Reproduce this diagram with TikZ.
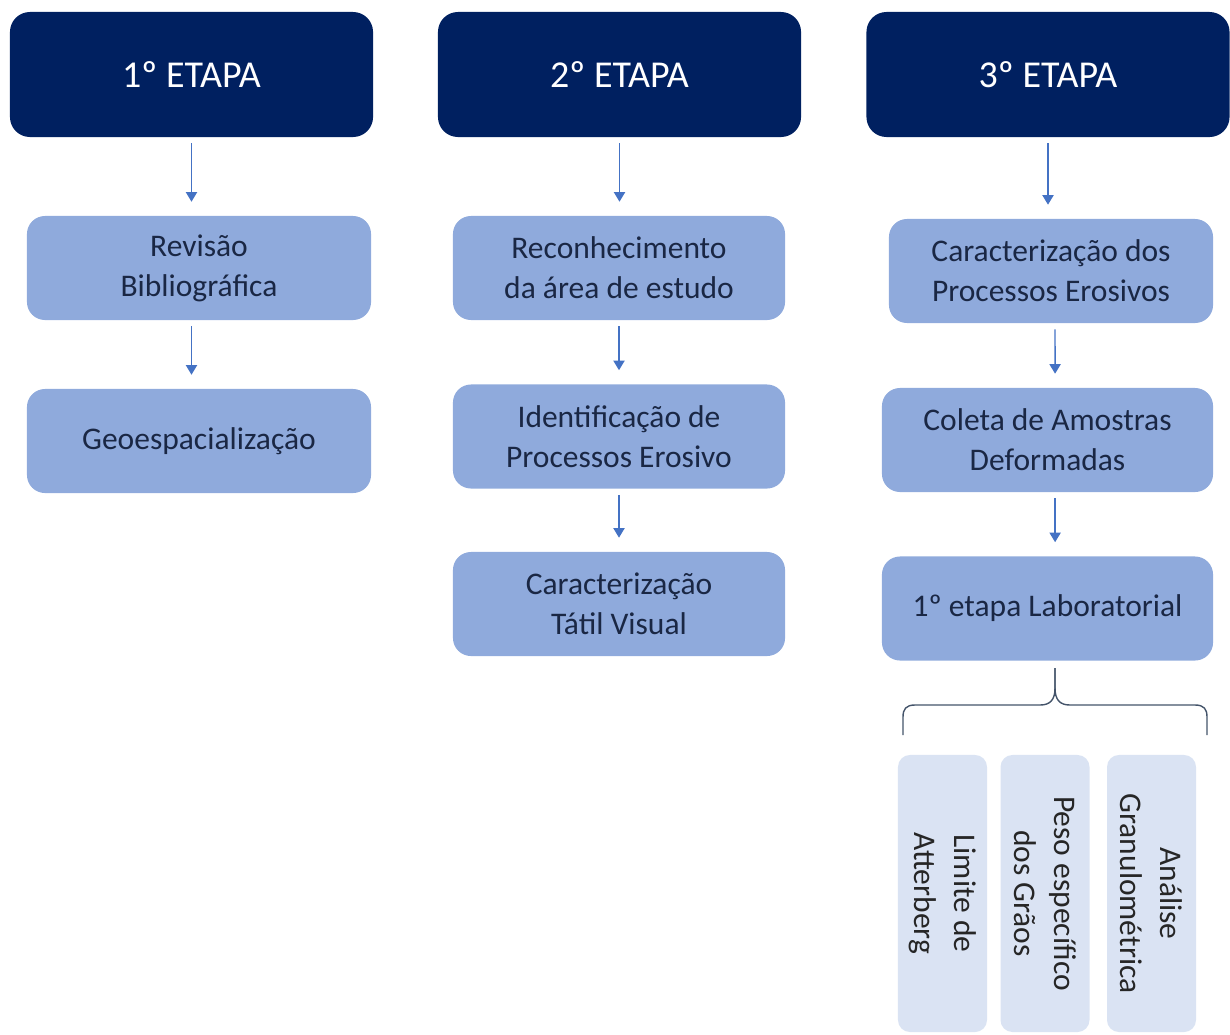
\documentclass[tikz,border=0pt]{standalone}
\usepackage{fontspec}
\setmainfont{Carlito}
\usetikzlibrary{arrows.meta}
\definecolor{navy}{HTML}{002060}
\definecolor{azul}{HTML}{8FAADC}
\definecolor{claro}{HTML}{DAE3F3}
\definecolor{tinta}{HTML}{1A2744}
\definecolor{seta}{HTML}{4472C4}
\definecolor{chave}{HTML}{44546A}
\begin{document}
\begin{tikzpicture}[x=0.025cm, y=-0.025cm,
        etapa/.style={rectangle, rounded corners=0.5cm, fill=navy, text=white, minimum width=9.075cm, minimum height=3.125cm, font=\fontsize{27}{32}\selectfont},
        passo/.style={rectangle, rounded corners=0.45cm, fill=azul, text=tinta, align=center, minimum height=2.6cm, font=\fontsize{22.4}{28.45}\selectfont},
        ensaio/.style={rectangle, rounded corners=0.3cm, fill=claro, text=black!85, align=center, minimum width=6.925cm, minimum height=2.225cm, rotate=-90, font=\fontsize{22.4}{28.45}\selectfont},
        flecha/.style={-{Triangle[width=0.28cm, length=0.24cm]}, line width=0.035cm, draw=seta, shorten <=0.15cm, shorten >=0.35cm}]
        \useasboundingbox (0,0) rectangle (1230,1034);

        \node[etapa] (E1) at (191.5,74.5) {1º ETAPA};
        \node[etapa] (E2) at (619.5,74.5) {2º ETAPA};
        \node[etapa] (E3) at (1048,74.5) {3º ETAPA};

        \node[passo, minimum width=8.6cm] (Rev) at (199,268) {Revisão\\Bibliográfica};
        \node[passo, minimum width=8.6cm] (Geo) at (199,441) {Geoespacialização};

        \node[passo, minimum width=8.3cm] (Rec) at (619,268) {Reconhecimento\\da área de estudo};
        \node[passo, minimum width=8.3cm] (Ide) at (619,436.5) {Identificação de\\Processos Erosivo};
        \node[passo, minimum width=8.3cm] (Tat) at (619,604) {Caracterização\\Tátil Visual};

        \node[passo, minimum width=8.1cm] (Car) at (1051,271) {Caracterização dos\\Processos Erosivos};
        \node[passo, minimum width=8.275cm] (Col) at (1047.5,440) {Coleta de Amostras\\Deformadas};
        \node[passo, minimum width=8.275cm] (Lab) at (1047.5,608.5) {1º etapa Laboratorial};

        \node[ensaio] (Att) at (942.5,893.5) {Limite de\\Atterberg};
        \node[ensaio] (Pes) at (1045,893.5) {Peso específico\\dos Grãos};
        \node[ensaio] (Gra) at (1151.5,893.5) {Análise\\Granulométrica};

        \draw[flecha] (E1.south) -- (E1.south |- Rev.north);
        \draw[flecha] (E1.south |- Rev.south) -- (E1.south |- Geo.north);
        \draw[flecha] (E2.south) -- (E2.south |- Rec.north);
        \draw[flecha] (Rec.south) -- (Ide.north);
        \draw[flecha] (Ide.south) -- (Tat.north);
        \draw[flecha] (E3.south) -- (E3.south |- Car.north);
        \draw[flecha] ([xshift=0.1cm]Car.south) -- ([xshift=0.19cm]Col.north);
        \draw[flecha] ([xshift=0.19cm]Col.south) -- ([xshift=0.19cm]Lab.north);

        \coordinate (ponta) at (1055,668);
        \coordinate (esq) at (903,735);
        \coordinate (dir) at (1207,735);
        \draw[chave, line width=0.035cm] (esq) -- (903,717) .. controls (903,709) and (906,705) .. (915,705) -- (1040,705) .. controls (1050,705) and (1055,700) .. (1055,688) -- (ponta);
        \draw[chave, line width=0.035cm] (ponta) -- (1055,688) .. controls (1055,700) and (1060,705) .. (1070,705) -- (1195,705) .. controls (1204,705) and (1207,709) .. (1207,717) -- (dir);
    \end{tikzpicture}
\end{document}
